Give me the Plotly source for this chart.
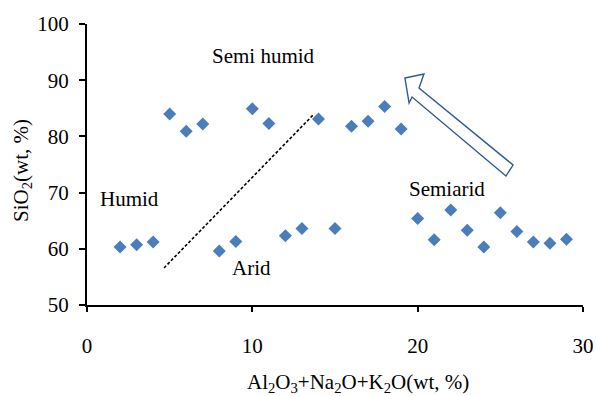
import plotly.graph_objects as go

# Data
x_vals = [2, 3, 4, 5, 6, 7, 8, 9, 10, 11, 12, 13, 14, 15, 16, 17, 18, 19,
          20, 21, 22, 23, 24, 25, 26, 27, 28, 29]
sio2 = [60.3, 60.7, 61.2, 84.0, 80.9, 82.2, 59.6, 61.3, 84.9, 82.3, 62.3, 63.6,
        83.1, 63.6, 81.8, 82.7, 85.3, 81.3, 65.4, 61.6, 66.9, 63.3, 60.3, 66.4,
        63.1, 61.2, 61.0, 61.7]

divider_x = [4.66, 13.67]
divider_y = [56.6, 83.8]

arrow_x = [19.23, 20.38, 20.08, 25.77, 25.34, 19.66, 19.48]
arrow_y = [90.39, 91.10, 88.61, 74.91, 72.95, 87.01, 85.94]

labels = ["Semi humid", "Humid", "Arid", "Semiarid"]
label_x = [10.7, 2.6, 9.95, 21.8]
label_y = [94.3, 68.9, 56.6, 70.6]

x_ticks = [0, 10, 20, 30]
y_ticks = [50, 60, 70, 80, 90, 100]

FONT = "Liberation Serif, Times New Roman, serif"

fig = go.Figure()
fig.add_trace(go.Scatter(
    x=x_vals, y=sio2, mode="markers",
    marker=dict(symbol="diamond", size=10, color="#4A7EBB"),
    showlegend=False, hoverinfo="skip"))

fig.add_trace(go.Scatter(
    x=divider_x, y=divider_y, mode="lines",
    line=dict(color="black", width=1.6, dash="3px,2px"),
    showlegend=False, hoverinfo="skip"))

path = "M " + " L ".join(f"{a},{b}" for a, b in zip(arrow_x, arrow_y)) + " Z"
fig.add_shape(type="path", path=path, xref="x", yref="y",
              line=dict(color="#2E5A8E", width=1.4), fillcolor="white")

for t, lx, ly in zip(labels, label_x, label_y):
    fig.add_annotation(x=lx, y=ly, text=t, showarrow=False,
                       font=dict(family=FONT, size=21, color="black"))

fig.add_annotation(x=0.546, y=-0.2776, xref="paper", yref="paper",
                   text="Al<sub>2</sub>O<sub>3</sub>+Na<sub>2</sub>O+K<sub>2</sub>O(wt, %)",
                   showarrow=False, xanchor="center", yanchor="middle",
                   font=dict(family=FONT, size=21, color="black"))
fig.add_annotation(x=-0.131, y=0.477, xref="paper", yref="paper",
                   text="SiO<sub>2</sub>(wt, %)", textangle=-90,
                   showarrow=False, xanchor="center", yanchor="middle",
                   font=dict(family=FONT, size=21, color="black"))

fig.update_layout(
    width=596, height=396,
    margin=dict(l=87, r=13, t=24, b=91, autoexpand=False),
    paper_bgcolor="white", plot_bgcolor="white",
    font=dict(family=FONT, size=21, color="black"),
    xaxis=dict(range=[0, 30], tickvals=x_ticks, showgrid=False, zeroline=False,
               showline=True, linecolor="black", linewidth=2,
               ticks="outside", ticklen=5, tickwidth=2, tickcolor="black",
               ticklabelstandoff=16, ticklabeloverflow="allow",
               tickfont=dict(family=FONT, size=21)),
    yaxis=dict(range=[50, 100], tickvals=y_ticks, showgrid=False, zeroline=False,
               showline=True, linecolor="black", linewidth=2,
               ticks="outside", ticklen=6, tickwidth=2, tickcolor="black",
               ticklabelstandoff=6, tickfont=dict(family=FONT, size=21)),
)

fig.write_html(
    "out.html",
    config={"displayModeBar": False},
    post_script="document.body.style.margin='0';document.body.style.overflow='hidden';",
)
